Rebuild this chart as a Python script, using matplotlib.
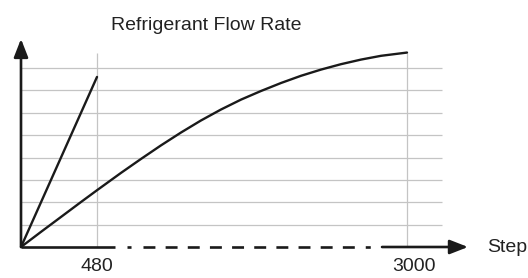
import numpy as np
import matplotlib
matplotlib.use("Agg")
import matplotlib.pyplot as plt
from matplotlib.scale import FuncScale

plt.rcParams['font.family'] = ['Liberation Sans', 'DejaVu Sans']
plt.rcParams['lines.scale_dashes'] = False

# ---- data ----
title = "Refrigerant Flow Rate"
x_label = "Step"
tick_steps = [480, 3000]
tick_labels = ["480", "3000"]

fast_steps = [0, 480]
fast_values = [0.0, 7.6]

slow_steps = [0, 126, 253, 379, 480, 513, 675, 838, 1000, 1163, 1325, 1488,
              1651, 1813, 1976, 2138, 2301, 2463, 2626, 2789, 3000]
slow_values = [0.0, 0.675, 1.345, 2.011, 2.537, 2.668, 3.312, 3.937, 4.541,
               5.117, 5.654, 6.145, 6.588, 6.972, 7.330, 7.651, 7.929, 8.170,
               8.376, 8.545, 8.69]

grid_levels = [1, 2, 3, 4, 5, 6, 7, 8]

# ---- broken (piecewise-linear) step scale ----
_bp_steps = np.array([-1e5, 0, 480, 3000, 1e5])
_slope_l = 76 / 480
_slope_r = 310 / 2520
_bp_pos = np.array([21 - 1e5 * _slope_l, 21, 97, 407, 407 + 97000 * _slope_r])

def fwd(x):
    return np.interp(x, _bp_steps, _bp_pos)

def inv(p):
    return np.interp(p, _bp_pos, _bp_steps)

W, H, DPI = 528, 278, 100
fig = plt.figure(figsize=(W / DPI, H / DPI), dpi=DPI)
ax = fig.add_axes([0, 0, 1, 1])
ax.set_xscale(FuncScale(ax, (fwd, inv)))
ax.set_xlim(inv(0), inv(W))
unit = 22.375
ax.set_ylim(-(H - 247) / unit, 247 / unit)
ax.axis('off')

grid_c = '#c4c4c4'
ink = '#1a1a1a'
txt = '#222222'

# horizontal grid lines
grid_end = 3285
for g in grid_levels:
    ax.plot([0, grid_end], [g, g], color=grid_c, lw=0.9, solid_capstyle='butt', zorder=1)

# vertical reference lines
v_top = slow_values[-1]
for s in tick_steps:
    ax.plot([s, s], [0, v_top], color=grid_c, lw=0.9, solid_capstyle='butt', zorder=1)

# curves
ax.plot(fast_steps, fast_values, color=ink, lw=1.7, zorder=3, solid_capstyle='round')
ax.plot(slow_steps, slow_values, color=ink, lw=1.7, zorder=3, solid_capstyle='round',
        solid_joinstyle='round')

# x axis: solid - dashed - solid with arrow
ax_lw = 1.9
ax.plot([0, 626], [0, 0], color=ink, lw=ax_lw, solid_capstyle='butt', zorder=4)
dash_pat = (0, (2.9, 8.6) + (8.6, 7.35) * 9 + (8.6, 7.9, 3.6, 20))
ax.plot([724, 2707], [0, 0], color=ink, lw=ax_lw, linestyle=dash_pat,
        dash_capstyle='butt', zorder=4)
ax.annotate('', xy=(3496, 0), xytext=(2797, 0),
            arrowprops=dict(arrowstyle='-|>,head_length=11,head_width=4.3',
                            mutation_scale=1, color=ink, lw=ax_lw,
                            shrinkA=0, shrinkB=0), zorder=4)

# y axis arrow
ax.annotate('', xy=(0, 9.3), xytext=(0, 0),
            arrowprops=dict(arrowstyle='-|>,head_length=11,head_width=4.3',
                            mutation_scale=1, color=ink, lw=ax_lw,
                            shrinkA=0, shrinkB=0), zorder=4)

# texts
fs = 14
ax.text(1366, 9.70, title, ha='center', va='baseline', fontsize=fs, color=txt)
for s, lab in zip(tick_steps, tick_labels):
    dx = 0 if s == 480 else 7
    ax.annotate(lab, xy=(s, 0), xytext=(dx * 72 / DPI, -24 * 72 / DPI),
                textcoords='offset points', ha='center', va='baseline',
                fontsize=fs, color=txt)
ax.annotate(x_label, xy=(3496, 0), xytext=(19 * 72 / DPI, 0),
            textcoords='offset points', ha='left', va='center',
            fontsize=fs, color=txt)

fig.savefig('out.png', dpi=DPI)
